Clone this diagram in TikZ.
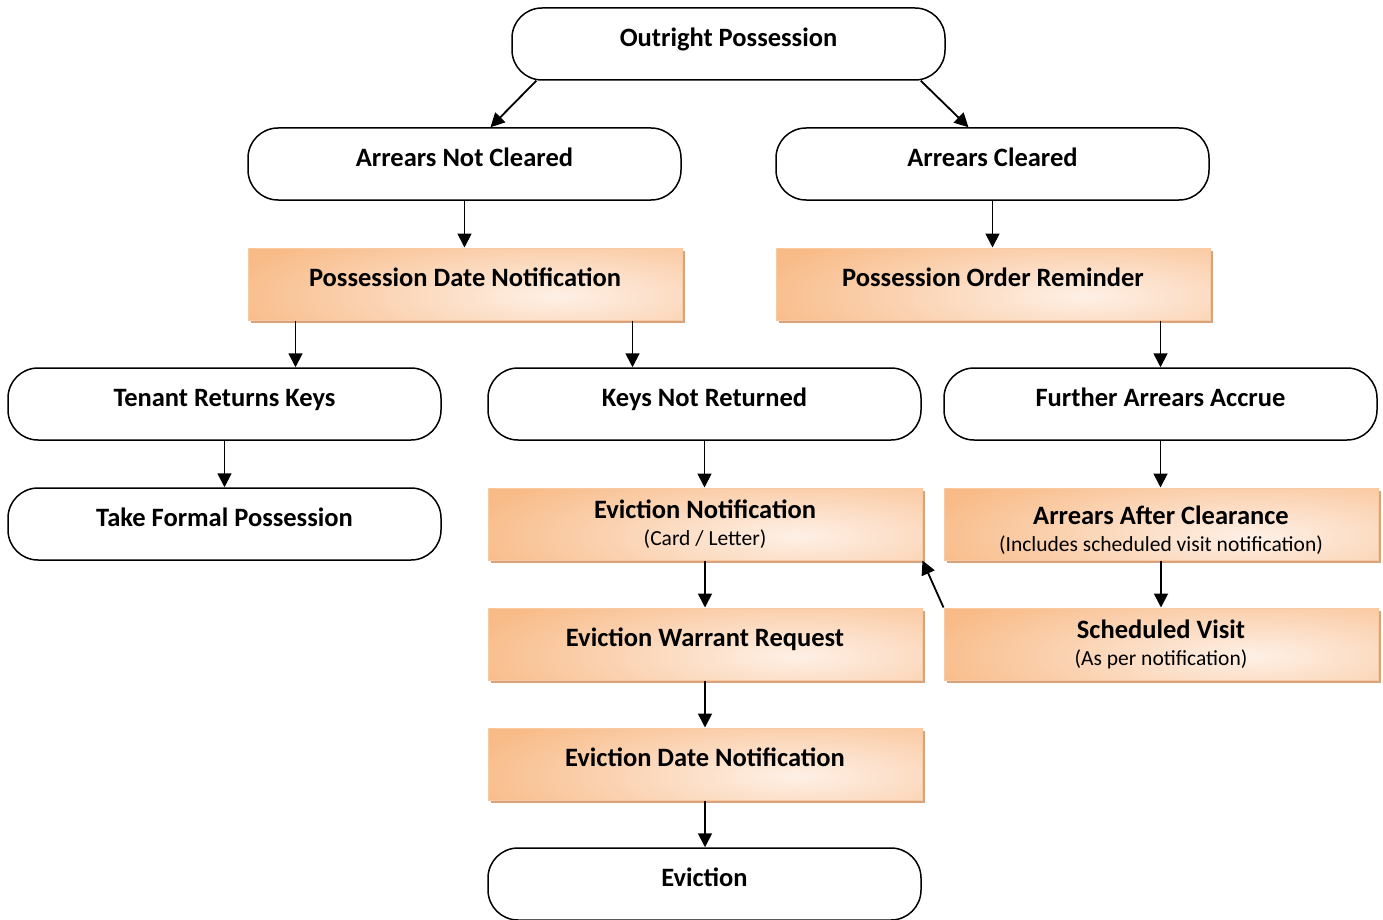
\documentclass[tikz,border=0pt]{standalone}
\usepackage{fontspec}
\setmainfont{Carlito}
\usetikzlibrary{arrows.meta,shadows,calc}
\definecolor{oA}{HTML}{F8BA86}
\definecolor{oL}{HTML}{FEF0E6}
\definecolor{oB}{HTML}{F9C9A1}
\definecolor{oS}{HTML}{D6A37B}
\begin{document}
\begin{tikzpicture}[x=1pt,y=-1pt,
  term/.style={draw, line width=1.5pt, rounded corners=30pt, minimum width=433pt, minimum height=72pt,
    inner sep=0pt, font=\bfseries\fontsize{26.5}{28}\selectfont, text height=5pt, text depth=0pt},
  proc/.style={draw=oB, line width=1pt, minimum width=434pt, minimum height=72pt, inner sep=0pt,
    fill=oA,
    path picture={\shade[inner color=oL, outer color=oA] ([xshift=90pt,yshift=-12pt]path picture bounding box.center) ellipse (340 and 80);},
    drop shadow={shadow xshift=3pt, shadow yshift=-3pt, fill=oS, opacity=1},
    font=\bfseries\fontsize{26.5}{28}\selectfont},
  one/.style={text height=5pt, text depth=0pt},
  two/.style={align=center},
  arr/.style={line width=1.8pt, -{Triangle[length=14pt,width=14pt]}}]
\useasboundingbox (0,0) rectangle (1383,920);
\newcommand{\subt}[1]{\\[-1pt]{\mdseries\fontsize{21.5}{24}\selectfont #1}}
\node[term] (op) at (728.5,44) {Outright Possession};
\node[term] (an) at (464.5,164) {Arrears Not Cleared};
\node[term] (ac) at (992.5,164) {Arrears Cleared};
\node[proc,one] (pdn) at (465,284) {Possession Date Notification};
\node[proc,one] (por) at (993,284) {Possession Order Reminder};
\node[term] (trk) at (224.5,404) {Tenant Returns Keys};
\node[term] (knr) at (704.5,404) {Keys Not Returned};
\node[term] (faa) at (1160.5,404) {Further Arrears Accrue};
\node[term] (tfp) at (224.5,524) {Take Formal Possession};
\node[proc,two] (en) at (705,524) {Eviction Notification\subt{(Card / Letter)}};
\node[proc,two] (aac) at (1161,524) {\rule{0pt}{31pt}Arrears After Clearance\subt{(Includes scheduled visit notification)}};
\node[proc,one] (ewr) at (705,644) {Eviction Warrant Request};
\node[proc,two] (sv) at (1161,644) {Scheduled Visit\subt{(As per notification)}};
\node[proc,one] (edn) at (705,764) {Eviction Date Notification};
\node[term] (ev) at (704.5,884) {Eviction};
\draw[arr] ([xshift=25pt]op.south west) -- ([xshift=26pt]an.north);
\draw[arr] ([xshift=-25pt]op.south east) -- ([xshift=-24pt]ac.north);
\draw[arr] (an.south) -- (an.south |- pdn.north);
\draw[arr] (ac.south) -- (ac.south |- por.north);
\draw[arr] ([xshift=48pt]pdn.south west) coordinate (t1) -- (t1 |- trk.north);
\draw[arr] ([xshift=-50pt]pdn.south east) coordinate (t2) -- (t2 |- knr.north);
\draw[arr] (faa.north |- por.south) -- (faa.north);
\draw[arr] (trk.south) -- (tfp.north);
\draw[arr] (knr.south) -- (knr.south |- en.north);
\draw[arr] (faa.south) -- (faa.south |- aac.north);
\draw[arr] (en.south) -- (ewr.north);
\draw[arr] (aac.south) -- (sv.north);
\draw[arr] (sv.north west) -- (en.south east);
\draw[arr] (ewr.south) -- (edn.north);
\draw[arr] (edn.south) -- (edn.south |- ev.north);
\end{tikzpicture}
\end{document}
